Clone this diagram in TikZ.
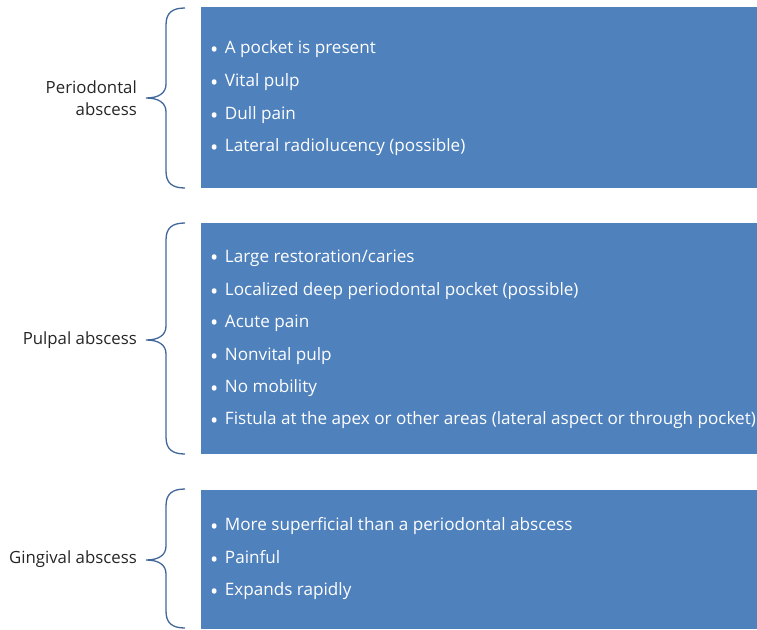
\documentclass[tikz,border=0pt]{standalone}
\usepackage{fontspec}
\setmainfont{Open Sans}
\definecolor{boxblue}{HTML}{4F81BD}
\definecolor{braceblue}{HTML}{41679A}
\definecolor{labelgray}{HTML}{262626}
\newcommand{\bul}{{\fontsize{22}{22}\selectfont\raisebox{-3.6pt}{\textbullet}}\hspace{6.5pt}}
\begin{document}
\begin{tikzpicture}[x=1pt,y=-1pt,
  bluebox/.style={fill=boxblue,draw=none,inner sep=0pt,anchor=north west},
  item/.style={anchor=west,text=white,font=\fontsize{17.1}{18}\selectfont,inner sep=0pt},
  grouplabel/.style={anchor=east,align=right,text=labelgray,font=\fontsize{16.8}{21.5}\selectfont,inner sep=0pt},
  brace/.style={draw=braceblue,line width=1.3pt}]
\useasboundingbox (0,0) rectangle (757,629);
% boxes
\node[bluebox,minimum width=556pt,minimum height=181pt] (b1) at (201,7) {};
\node[bluebox,minimum width=556pt,minimum height=231pt] (b2) at (201,223) {};
\node[bluebox,minimum width=556pt,minimum height=139pt] (b3) at (201,490) {};
% items box 1
\node[item] (i11) at (210,49) {\bul A pocket is present};
\node[item] (i12) at (210,82) {\bul Vital pulp};
\node[item] (i13) at (210,115) {\bul Dull pain};
\node[item] (i14) at (210,147) {\bul Lateral radiolucency (possible)};
% items box 2
\node[item] (i21) at (210,258) {\bul Large restoration/caries};
\node[item] (i22) at (210,291) {\bul Localized deep periodontal pocket (possible)};
\node[item] (i23) at (210,323) {\bul Acute pain};
\node[item] (i24) at (210,356) {\bul Nonvital pulp};
\node[item] (i25) at (210,388) {\bul No mobility};
\node[item] (i26) at (210,420) {\bul Fistula at the apex or other areas (lateral aspect or through pocket)};
% items box 3
\node[item] (i31) at (210,526) {\bul More superficial than a periodontal abscess};
\node[item] (i32) at (210,559) {\bul Painful};
\node[item] (i33) at (210,591) {\bul Expands rapidly};
% labels
\node[grouplabel] (l1) at (137,98) {Periodontal\\abscess};
\node[grouplabel] (l2) at (137,340) {Pulpal abscess};
\node[grouplabel] (l3) at (137,559) {Gingival abscess};
% braces
\coordinate (t1) at (146,98);
\coordinate (t2) at (146,340);
\coordinate (t3) at (146,560);
\draw[brace] (185,8) .. controls (172,8) and (166,13) .. (166,25) -- (166,84)
  .. controls (166,93) and (159,98) .. (t1)
  .. controls (159,98) and (166,103) .. (166,112) -- (166,171)
  .. controls (166,183) and (172,188) .. (185,188);
\draw[brace] (185,223) .. controls (172,223) and (166,228) .. (166,240) -- (166,326)
  .. controls (166,335) and (159,340) .. (t2)
  .. controls (159,340) and (166,345) .. (166,354) -- (166,437)
  .. controls (166,449) and (172,454) .. (185,454);
\draw[brace] (185,489) .. controls (172,489) and (166,494) .. (166,506) -- (166,546)
  .. controls (166,555) and (159,560) .. (t3)
  .. controls (159,560) and (166,565) .. (166,574) -- (166,611)
  .. controls (166,623) and (172,628) .. (185,628);
\end{tikzpicture}
\end{document}
